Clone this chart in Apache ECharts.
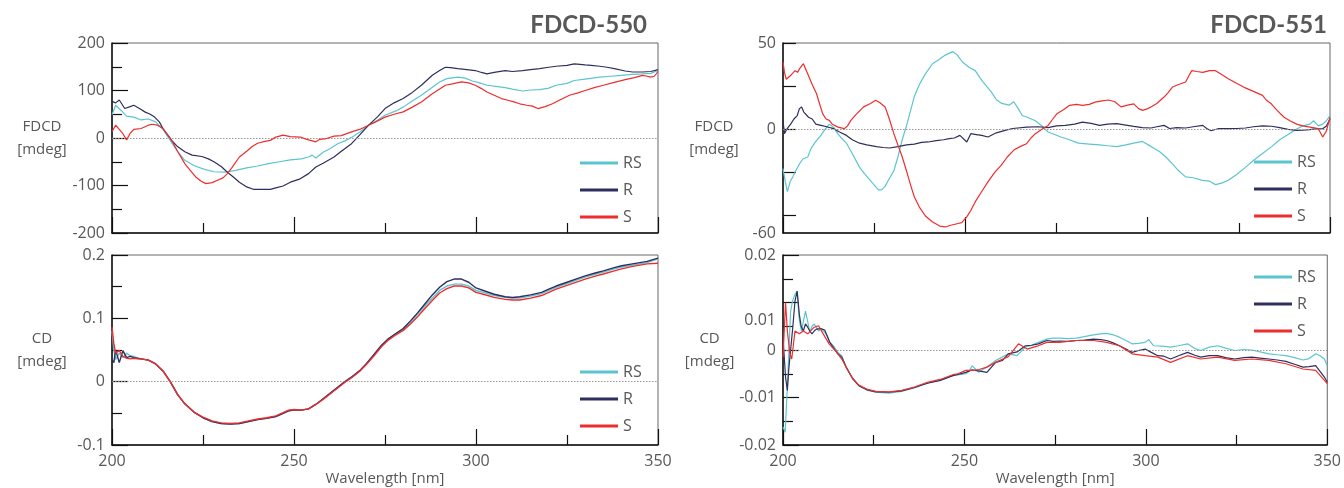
<!DOCTYPE html>
<html><head><meta charset="utf-8">
<script src="https://cdn.jsdelivr.net/npm/echarts@6/dist/echarts.min.js"></script>
<style>html,body{margin:0;padding:0;background:#fff}#c{width:1344px;height:488px}</style>
</head><body><div id="c"></div>
<script>
// ---------- data ----------
const seriesNames = ['RS', 'R', 'S'];
const xTickLabels = [200, 250, 300, 350];
const yLabelsFDCD550 = [-200, -100, 0, 100, 200];
const yLabelsCD550 = [-0.1, 0, 0.1, 0.2];
const yLabelsFDCD551 = [-60, 0, 50];
const yTicksFDCD551 = [-50, -25, 0, 25, 50];
const yLabelsCD551 = [-0.02, -0.01, 0, 0.0063, 0.02];
const yLabelTextCD551 = ['-0.02', '-0.01', '0', '0.01', '0.02'];

// FDCD-550 (top-left) [wavelength nm, mdeg]
const fdcd550_RS = [[200,49],[201,69],[202.5,58],[204,46],[206,44],[208,38],[210,40],[212,34],[214,18],[216,-5],[218,-28],[220,-47],[222.5,-58],[225,-65],[228,-71],[231,-72],[234,-68],[237,-63],[240,-59],[243,-54],[246,-50],[249,-46],[252,-44],[254,-40],[255,-36],[256,-42],[258,-30],[260,-22],[262,-12],[264,-6],[266,2],[268,12],[270.5,27],[273,38],[275,48],[278,57],[280,65],[282.5,78],[285,90],[288,107],[290,118],[292,125],[295,128],[297,126],[299,120],[301,116],[303,111],[306,108],[308,106],[310,103],[312.8,99],[315,101],[317.5,102],[320,105],[322,111],[325,115],[327,121],[330,124],[334,128],[337,130],[340,132],[343,134],[345.7,135],[348,136],[350,142]];
const fdcd550_R = [[200,77],[201,74],[202,80],[203.5,62],[205,66],[206,69],[208,60],[209,55],[210.5,50],[211.7,44],[213,34],[214,20],[216.4,-5],[218,-18],[220,-29],[222,-36],[224.7,-39],[226.5,-44],[228,-50],[230,-60],[231.7,-72],[233.5,-83],[235,-93],[237,-103],[238.8,-108],[241,-108],[243.5,-108],[245,-105],[247,-101],[249,-93],[251.7,-86],[254,-75],[256,-61],[258,-53],[261,-40],[263,-28],[265.8,-12],[268,6],[270.5,27],[273,45],[275,62],[277.5,74],[280,83],[282.5,96],[285,111],[288,132],[290,142],[291.6,149],[293,148],[295,146],[297.5,144],[299.8,142],[301.5,138],[303,135],[305,138],[308,142],[310,140],[312.8,142],[315,144],[317.5,146],[320,149],[322,151],[325,153],[327,156],[330,154],[331.6,153],[334,151],[336,149],[338,146],[341,141],[343,139],[345.7,139],[348,140],[350,144]];
const fdcd550_S = [[200,13],[201,27],[202,18],[203,9],[204,-4],[205,10],[206,18],[208,20],[210,27],[211,29],[212.5,27],[214,20],[216.4,-5],[218,-28],[220,-54],[221.5,-68],[223,-82],[224.5,-91],[225.8,-96],[227.5,-94],[229,-89],[230.5,-84],[231.7,-75],[233,-62],[235,-40],[237,-28],[238.5,-18],[240,-11],[242,-7],[243.5,-5],[245,2],[247,6],[249,3],[251.7,2],[253.5,-3],[255,-6],[256,-8],[257,-3],[258.5,-2],[261,4],[263,5],[265.8,13],[268,18],[270.5,27],[273,36],[275,44],[277.5,50],[280,55],[282.5,65],[285,76],[288,93],[290,103],[291.6,111],[293.5,114],[296,118],[298,116],[299.8,111],[301.5,104],[303,97],[305,90],[307,83],[308.5,80],[310.4,76],[312,72],[314,69],[315.5,67],[317,62],[319,66],[321,72],[323,80],[325.7,90],[328,95],[330,100],[332.5,106],[335,111],[338,117],[341,123],[343.5,127],[345.7,132],[347,130],[348,128],[349,130],[350,140]];

// CD-550 (bottom-left)
const cd550_RS = [[200,0.08],[200.5,0.05],[201,0.035],[202,0.045],[203,0.038],[204,0.045],[205,0.041],[206,0.04],[207,0.037],[208,0.036],[210,0.034],[212,0.028],[214,0.017],[216,0.0],[218,-0.02],[220,-0.035],[222.5,-0.048],[225,-0.057],[227.5,-0.063],[230,-0.066],[232.5,-0.067],[235,-0.066],[237.5,-0.063],[240,-0.06],[242.5,-0.058],[245,-0.055],[247,-0.05],[248.5,-0.046],[250,-0.045],[252,-0.045],[254,-0.043],[256,-0.036],[258,-0.027],[260,-0.018],[262,-0.009],[264,0.0],[266,0.008],[268,0.017],[270,0.029],[272,0.043],[274,0.057],[276,0.068],[278,0.076],[280,0.083],[282,0.094],[284,0.107],[286,0.12],[288,0.132],[290,0.144],[292,0.151],[294,0.154],[296,0.154],[298,0.151],[300,0.144],[302,0.141],[305,0.136],[308,0.133],[310,0.132],[312,0.132],[315,0.135],[318,0.139],[320,0.144],[322,0.149],[325,0.155],[328,0.161],[330,0.165],[333,0.17],[335,0.173],[338,0.178],[340,0.181],[343,0.184],[345,0.186],[347,0.188],[350,0.194]];
const cd550_R = [[200,0.035],[200.5,0.03],[201,0.05],[202,0.03],[203,0.049],[204,0.038],[205,0.04],[206,0.038],[207,0.037],[208,0.036],[210,0.034],[212,0.028],[214,0.017],[216,0.0],[218,-0.02],[220,-0.035],[222.5,-0.048],[225,-0.057],[227.5,-0.063],[230,-0.066],[232.5,-0.067],[235,-0.066],[237.5,-0.063],[240,-0.06],[242.5,-0.058],[245,-0.055],[247,-0.05],[248.5,-0.046],[250,-0.045],[252,-0.045],[254,-0.043],[256,-0.036],[258,-0.027],[260,-0.018],[262,-0.009],[264,0.0],[266,0.008],[268,0.017],[270,0.029],[272,0.043],[274,0.057],[276,0.068],[278,0.076],[280,0.084],[282,0.096],[284,0.109],[286,0.123],[288,0.137],[290,0.149],[292,0.158],[294,0.162],[296,0.162],[298,0.157],[300,0.148],[302,0.144],[305,0.138],[308,0.134],[310,0.133],[312,0.134],[315,0.137],[318,0.141],[320,0.146],[322,0.151],[325,0.157],[328,0.163],[330,0.167],[333,0.172],[335,0.175],[338,0.18],[340,0.183],[343,0.186],[345,0.188],[347,0.19],[350,0.195]];
const cd550_S = [[200,0.086],[200.5,0.06],[201,0.045],[202,0.049],[203,0.04],[204,0.037],[205,0.036],[206,0.037],[207,0.036],[208,0.036],[210,0.034],[212,0.028],[214,0.017],[216,0.0],[218,-0.02],[220,-0.035],[222.5,-0.048],[225,-0.056],[227.5,-0.062],[230,-0.065],[232.5,-0.066],[235,-0.065],[237.5,-0.062],[240,-0.059],[242.5,-0.057],[245,-0.054],[247,-0.049],[248.5,-0.045],[250,-0.044],[252,-0.045],[254,-0.043],[256,-0.036],[258,-0.028],[260,-0.019],[262,-0.01],[264,-0.001],[266,0.007],[268,0.016],[270,0.028],[272,0.041],[274,0.055],[276,0.066],[278,0.074],[280,0.081],[282,0.091],[284,0.103],[286,0.116],[288,0.128],[290,0.14],[292,0.147],[294,0.151],[296,0.151],[298,0.148],[300,0.141],[302,0.138],[305,0.133],[308,0.13],[310,0.129],[312,0.129],[315,0.132],[318,0.136],[320,0.141],[322,0.146],[325,0.152],[328,0.158],[330,0.162],[333,0.167],[335,0.17],[338,0.175],[340,0.178],[343,0.182],[345,0.184],[347,0.186],[350,0.187]];

// FDCD-551 (top-right)
const fdcd551_RS = [[200,-22.7],[200.6,-30],[201.2,-36],[202,-30],[202.7,-27.5],[203.5,-24],[204.5,-20],[205.5,-17],[206.8,-16],[207.5,-12],[208,-10],[209,-7],[210.4,-3.5],[211.5,0],[212.7,3],[214,1],[215,-2.5],[216,-5],[217.4,-8],[219,-14],[221,-22],[222.5,-26],[224.5,-31],[226.2,-35],[227,-35],[228,-33],[229,-29],[230.4,-24],[231.5,-16],[232.7,-6],[234,3],[235,11],[236,19],[237.4,26],[239,32],[241,38],[242.5,40],[244.5,43],[245.5,44],[246.6,45],[247.8,43],[249.2,39],[251,36],[252.7,34],[254,30],[255,27],[257,22],[258.6,17],[260,15],[262,14],[263.3,16],[264.5,12],[265.6,8],[267,7],[269.2,5],[271,2],[272.7,-1.5],[274.5,-3],[276.2,-4.4],[278.5,-6],[281,-8],[284,-8.5],[286.8,-9],[289,-9.5],[291.5,-10],[294,-9],[296.2,-8],[298.6,-7],[301,-10],[303.3,-13],[305,-16],[306.8,-20],[308.5,-24],[310.4,-27.5],[312.5,-28],[315,-29.5],[317,-30],[318.6,-32],[320.5,-31],[322.1,-29.5],[324.5,-26],[326.8,-22],[329,-18],[331.5,-14],[334,-10],[336.2,-6],[338.5,-3],[341,0.4],[342.5,2],[344.5,3],[345.5,5],[346.8,2],[348,3],[349,5],[350,8]];
const fdcd551_R = [[200,5],[200.4,-2.5],[201,0],[202.1,3],[203,6],[203.9,8],[204.5,12],[205.1,13],[205.7,10],[206.2,9],[207,7],[208,6],[209,3],[210.4,2.3],[212,1.5],[213.9,0.4],[215.5,-1.5],[217.4,-3.5],[219,-6],[221,-8],[223,-9],[225.6,-10],[227.5,-10.5],[229.2,-10.8],[231.5,-10],[233.9,-9],[236,-8.5],[238,-7.5],[239.8,-7.3],[242,-6.5],[244,-6],[245.6,-5.4],[247,-5],[248.5,-3.5],[250.4,-7.3],[251.5,-2.5],[253,-3],[254.5,-3.5],[256.2,-4.4],[258.5,-2],[260.9,-0.6],[263,0.5],[266.8,1.3],[270,1.5],[272.7,1],[275,2],[277.4,2.3],[280,3],[282.1,4.2],[284.5,3.5],[286.8,2.3],[289,3],[291.5,3.3],[294,2.5],[296.2,1.7],[298.5,1],[300.9,0.8],[302.5,1.5],[304.5,2.3],[306,0.5],[308,1],[310.4,0.8],[312.5,1.5],[315.1,2.3],[316.2,0.5],[317.4,-0.8],[319.5,0.5],[322.1,0.4],[324.5,0.5],[326.8,0.8],[329,1.5],[331.5,2],[334,1.8],[336.2,1],[338.5,0],[341,-0.6],[342.5,-0.5],[344.5,-0.2],[346,0.3],[348,0.4],[349,2],[350,6]];
const fdcd551_S = [[200,39],[200.4,33],[200.9,29],[202,31],[203.3,34],[204,33],[204.5,35],[205.6,38],[206.2,35],[206.8,32],[208,26],[209.2,20.6],[210,15],[210.9,9],[211.8,6],[212.7,5.2],[213.5,3],[215.1,1.3],[216.8,0.4],[217.7,2],[218.6,5.2],[220,8.5],[222.1,13],[224,15],[225.4,16.8],[226.5,15.5],[228,13],[229,7],[230.4,-2.5],[231.5,-9],[232.7,-16],[234,-25],[235.1,-33],[236,-39],[237.4,-45],[239,-50],[240.9,-53.5],[243,-56],[244.5,-56.5],[246,-55.5],[248,-54.5],[249,-54],[250.4,-50.7],[251.5,-47],[252.7,-42],[254.5,-36],[256.2,-30.4],[258,-25],[259.8,-20.8],[261.5,-16],[263.3,-12],[265,-10],[266.8,-8.3],[268,-5],[269.2,-2.5],[271,0],[272.7,2.3],[274,6],[275.1,9],[277,11.5],[278.6,13.9],[280.5,14.5],[282.1,13.9],[284,14.5],[285.6,15.8],[287.5,16.5],[289.2,17],[291,16],[292.7,13],[294.5,14],[296.2,14.8],[297.5,12],[298.6,11],[300,12],[300.9,13],[302.5,15],[304.5,18.7],[305.5,21],[306.8,24.5],[308.5,26],[310.4,27.4],[311.3,31],[312.1,34],[313.5,33.5],[315.1,33],[317,34],[318.6,34],[320.5,31.5],[322.1,29.3],[324.5,26.5],[326.8,24],[329,22],[331.5,19.7],[332.5,17],[333.9,14.8],[335.5,11],[337.4,7],[339,5],[341,2.9],[342.5,2],[344.5,1.3],[346.8,0.4],[348,-4.4],[349,-1],[350,7]];

// CD-551 (bottom-right)
const cd551_RS = [[200,-0.0162],[200.6,-0.0173],[201.2,-0.0078],[202.1,0.0082],[202.7,0.0105],[203.3,0.0117],[203.9,0.0124],[204.5,0.0062],[205.1,0.004],[205.6,0.006],[206.2,0.0082],[206.8,0.006],[207.4,0.0037],[208,0.005],[208.6,0.0055],[209.2,0.0047],[209.8,0.004],[210.6,0.0045],[211.5,0.0037],[212.2,0.003],[212.9,0.0016],[213.9,0.0009],[215.1,-0.0005],[216.2,-0.0012],[217.4,-0.0036],[219.2,-0.0061],[220.9,-0.0075],[223.3,-0.0085],[225.6,-0.0089],[229.2,-0.0091],[232.7,-0.0087],[236.2,-0.008],[239.8,-0.007],[243.3,-0.0064],[246.8,-0.0054],[250.4,-0.005],[251.3,-0.0045],[252.1,-0.0033],[253,-0.004],[253.9,-0.0047],[256.2,-0.0036],[258.6,-0.0022],[260.4,-0.0015],[262.1,-0.0008],[264.5,-0.0012],[266.8,0.0006],[268.5,0.001],[270.4,0.0016],[272.7,0.0023],[274.5,0.0025],[276.2,0.0025],[278.5,0.0024],[280.9,0.0025],[283,0.0028],[285.6,0.0032],[287.5,0.0034],[289.2,0.0035],[291,0.0032],[292.7,0.0027],[294.5,0.002],[296.2,0.0013],[298,0.0014],[299.8,0.0016],[300.8,0.0022],[302.1,0.0009],[304.5,0.0008],[306.8,0.0006],[309,0.0009],[311.5,0.0013],[313.5,0.0003],[315.1,-0.0001],[317.5,0.0006],[319.8,0.0009],[322,0.0004],[324.5,-0.0001],[327,0.0001],[329.2,0],[331.5,-0.0004],[333.9,-0.0008],[336.2,-0.001],[338.6,-0.0012],[341,-0.0016],[343.3,-0.0021],[345,-0.0018],[346.8,-0.0008],[348,-0.0012],[349.2,-0.0019],[350,-0.0033]];
const cd551_R = [[200,0.0027],[200.7,-0.0057],[201.2,-0.0085],[201.6,-0.004],[202.1,0],[202.7,0.0048],[203.3,0.0103],[203.9,0.0124],[204.5,0.0075],[205,0.005],[205.6,0.004],[206.2,0.0055],[206.8,0.0048],[207.4,0.004],[208,0.0034],[208.6,0.004],[209.2,0.0044],[210.4,0.0045],[211.5,0.0042],[212.9,0.0016],[215.1,-0.0008],[216.2,-0.0015],[217.4,-0.0036],[219.2,-0.006],[220.9,-0.0075],[223.3,-0.0084],[225.6,-0.0088],[229.2,-0.0089],[232.7,-0.0086],[236.2,-0.0079],[239.8,-0.007],[243.3,-0.0064],[246.8,-0.0054],[250.4,-0.0047],[252,-0.0042],[253.9,-0.0044],[256.2,-0.0047],[258.6,-0.0026],[260.5,-0.0022],[262.1,-0.0008],[264.5,-0.0004],[266.8,0.0009],[268.5,0.001],[270.4,0.0013],[272.7,0.002],[274.5,0.0018],[276.2,0.0019],[278.5,0.0018],[280.9,0.002],[283,0.0021],[285.6,0.0023],[287.5,0.0022],[289.2,0.002],[291,0.0015],[292.7,0.0009],[294.5,0.0002],[296.2,-0.0005],[298,-0.0001],[299.8,0.0002],[301.5,-0.0005],[303.3,-0.0012],[305,-0.0013],[306.8,-0.0019],[309,-0.0012],[311.5,-0.0005],[313.5,-0.0011],[315.1,-0.0015],[317.5,-0.0012],[319.8,-0.0012],[322,-0.0016],[324.5,-0.0019],[327,-0.0016],[329.2,-0.0015],[331.5,-0.0017],[333.9,-0.0019],[336.2,-0.0021],[338.6,-0.0024],[341,-0.003],[343.3,-0.0036],[345,-0.0035],[346.8,-0.0033],[348,-0.0045],[349.2,-0.0057],[350,-0.0068]];
const cd551_S = [[200,-0.0015],[200.7,0.01],[201.2,0.004],[201.9,-0.0008],[202.4,-0.0019],[203.3,0.004],[204.5,0.0034],[205.6,0.004],[206.8,0.0034],[208.6,0.0048],[209.8,0.0051],[211,0.0035],[212.7,0.0013],[214.4,-0.0001],[216.2,-0.0019],[217.4,-0.0036],[219.2,-0.006],[220.9,-0.0074],[223.3,-0.0083],[225.6,-0.0087],[229.2,-0.0088],[232.7,-0.0085],[236.2,-0.0078],[239.8,-0.0068],[243.3,-0.0062],[246.8,-0.0052],[248.2,-0.005],[250.4,-0.0043],[252.7,-0.0043],[254,-0.0041],[256.2,-0.0036],[258.6,-0.0026],[262.1,-0.0014],[264.9,0.0013],[267.3,0.0002],[270,0.0008],[272.7,0.0016],[276.2,0.0016],[280.9,0.002],[285.6,0.002],[289.2,0.0016],[292.7,0.0009],[296.2,-0.0008],[299.8,-0.0012],[303.3,-0.0015],[306.8,-0.0026],[311.5,-0.0012],[315.1,-0.0019],[319.8,-0.0015],[324.5,-0.0022],[329.2,-0.0019],[333.9,-0.0022],[338.6,-0.0029],[343.3,-0.004],[346.8,-0.0043],[350,-0.0071]];

// ---------- chart ----------
const COLORS = { RS: '#5BC5CF', R: '#2E2F5E', S: '#EE2D2D' };
const FONT = '"Open Sans", Lato, sans-serif';
const TFONT = 'Lato, "Open Sans", sans-serif';
const TXT = '#585858';

const grids = [
  { left: 112, top: 43, width: 546, height: 190 },
  { left: 112, top: 255, width: 546, height: 190 },
  { left: 783, top: 43, width: 547, height: 190 },
  { left: 783, top: 255, width: 547, height: 190 }
].map(g => Object.assign(g, { show: true, borderColor: '#666', borderWidth: 1, backgroundColor: 'transparent', containLabel: false }));

function xAxis(gi, showLabels) {
  return {
    type: 'value', gridIndex: gi, min: 200, max: 350, interval: 50,
    axisLine: { show: true, onZero: false, lineStyle: { color: '#111', width: 1.5 } },
    axisTick: { show: true, inside: true, length: 16, lineStyle: { color: '#111', width: 1.2 } },
    minorTick: { show: true, splitNumber: 2, length: 10, lineStyle: { color: '#111', width: 1.2 } },
    splitLine: { show: false },
    axisLabel: { show: showLabels, margin: 8, color: TXT, fontSize: 16, fontFamily: FONT,
      customValues: xTickLabels },
    name: showLabels ? 'Wavelength [nm]' : '', nameLocation: 'middle', nameGap: 26,
    nameTextStyle: { color: TXT, fontSize: 15, fontFamily: FONT }
  };
}
function yAxis(gi, opts) {
  return Object.assign({
    type: 'value', gridIndex: gi,
    axisLine: { show: true, onZero: false, lineStyle: { color: '#111', width: 1.5 } },
    axisTick: { show: true, inside: true, length: 16, lineStyle: { color: '#111', width: 1.2 } },
    splitLine: { show: false },
    nameLocation: 'middle', nameRotate: 0, nameGap: 70,
    nameTextStyle: { color: TXT, fontSize: 15, fontFamily: FONT, lineHeight: 23, align: 'center' }
  }, opts);
}
const labelBase = { margin: 7, color: TXT, fontSize: 16, fontFamily: FONT };

const yAxes = [
  yAxis(0, { min: -200, max: 200, interval: 100, name: 'FDCD\n[mdeg]',
    minorTick: { show: true, splitNumber: 2, length: 10, lineStyle: { color: '#111', width: 1.2 } },
    axisLabel: Object.assign({ customValues: yLabelsFDCD550 }, labelBase) }),
  yAxis(1, { min: -0.1, max: 0.2, interval: 0.1, name: 'CD\n[mdeg]',
    minorTick: { show: true, splitNumber: 2, length: 10, lineStyle: { color: '#111', width: 1.2 } },
    axisLabel: Object.assign({ customValues: yLabelsCD550 }, labelBase) }),
  yAxis(2, { min: -60, max: 50, name: 'FDCD\n[mdeg]', nameGap: 69,
    axisTick: { show: true, inside: true, length: 13, customValues: yTicksFDCD551, lineStyle: { color: '#111', width: 1.2 } },
    axisLabel: Object.assign({ customValues: yLabelsFDCD551 }, labelBase) }),
  yAxis(3, { min: -0.02, max: 0.02, interval: 0.01, name: 'CD\n[mdeg]', nameGap: 69,
    minorTick: { show: true, splitNumber: 2, length: 10, lineStyle: { color: '#111', width: 1.2 } },
    axisLabel: Object.assign({ customValues: yLabelsCD551,
      formatter: v => { const i = yLabelsCD551.findIndex(t => Math.abs(t - v) < 1e-9); return i >= 0 ? yLabelTextCD551[i] : ''; } }, labelBase) })
];

const panels = [
  { gi: 0, data: { RS: fdcd550_RS, R: fdcd550_R, S: fdcd550_S }, w: 1.2 },
  { gi: 1, data: { RS: cd550_RS, R: cd550_R, S: cd550_S }, w: 1.4 },
  { gi: 2, data: { RS: fdcd551_RS, R: fdcd551_R, S: fdcd551_S }, w: 1.2 },
  { gi: 3, data: { RS: cd551_RS, R: cd551_R, S: cd551_S }, w: 1.2 }
];
const series = [];
panels.forEach(p => {
  seriesNames.forEach((n, k) => {
    const s = {
      name: n, type: 'line', xAxisIndex: p.gi, yAxisIndex: p.gi,
      data: p.data[n], showSymbol: false, symbol: 'none', smooth: false,
      color: COLORS[n], lineStyle: { color: COLORS[n], width: p.w }, z: 3 + k, animation: false
    };
    if (k === 0) {
      s.markLine = { silent: true, symbol: 'none', label: { show: false }, animation: false,
        lineStyle: { color: '#999', type: [1.5, 1.5], width: 1 }, data: [{ yAxis: 0 }] };
    }
    series.push(s);
  });
});
function legend(left, top) {
  return { data: seriesNames, orient: 'vertical', left: left, top: top, icon: 'rect',
    itemWidth: 38, itemHeight: 3, itemGap: 11, selectedMode: false,
    textStyle: { color: TXT, fontSize: 16, fontFamily: FONT } };
}

const option = {
  animation: false,
  backgroundColor: '#fff',
  title: [
    { text: 'FDCD-550', right: 692, top: 8, textStyle: { color: TXT, fontSize: 24, fontWeight: 'bold', fontFamily: TFONT } },
    { text: 'FDCD-551', right: 12, top: 8, textStyle: { color: TXT, fontSize: 24, fontWeight: 'bold', fontFamily: TFONT } }
  ],
  legend: [legend(575, 150), legend(575, 359), legend(1249, 149), legend(1249, 264)],
  grid: grids,
  xAxis: [xAxis(0, false), xAxis(1, true), xAxis(2, false), xAxis(3, true)],
  yAxis: yAxes,
  series: series
};
const chart = echarts.init(document.getElementById('c'), null, { renderer: 'canvas' });
chart.setOption(option);
</script></body></html>
